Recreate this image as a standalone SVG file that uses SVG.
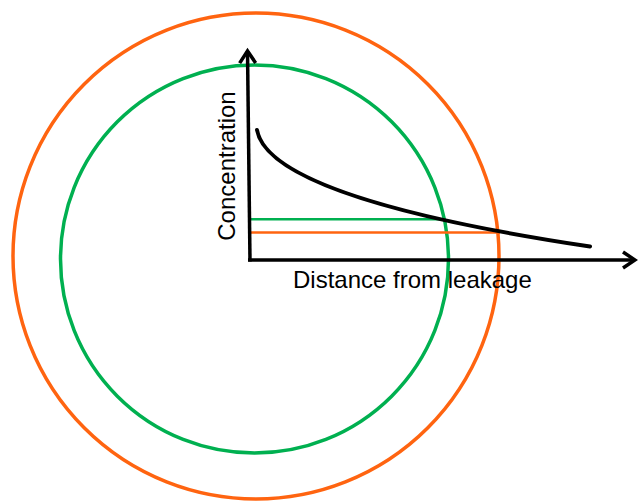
<svg xmlns="http://www.w3.org/2000/svg" width="638" height="502" viewBox="0 0 638 502">
<style>
.txt{font-family:"Liberation Sans",Arial,sans-serif;font-size:24px;fill:#000}
.ax{stroke:#000;stroke-width:3.5;fill:none}
.orange{stroke:#FF6410;fill:none}
.green{stroke:#00B050;fill:none}
</style>
<defs>
<marker id="arr" markerUnits="userSpaceOnUse" viewBox="-16 -11 20 22" refX="0" refY="0" markerWidth="20" markerHeight="22" orient="auto" overflow="visible">
<path d="M-12,-8 L0,0 L-12,8" fill="none" stroke="#000" stroke-width="3.5" stroke-linejoin="miter"/>
</marker>
</defs>
<g id="circle-outer"><circle class="orange" cx="256" cy="256" r="243" stroke-width="3.5"/></g>
<g id="circle-inner"><circle class="green" cx="254.5" cy="259" r="194" stroke-width="3.5"/></g>
<g id="thresholds">
<line class="green" x1="250" y1="219.3" x2="443" y2="219.3" stroke-width="2.6"/>
<line class="orange" x1="250" y1="232.5" x2="500" y2="232.5" stroke-width="2.6"/>
</g>
<g id="axes">
<line class="ax" x1="250" y1="261.5" x2="247.5" y2="51" marker-end="url(#arr)"/>
<line class="ax" x1="248" y1="260" x2="635" y2="260" marker-end="url(#arr)"/>
</g>
<g id="curve">
<path fill="none" stroke="#000" stroke-width="4" stroke-linecap="round" d="M257,130 C266,180 400,218 590,246.5"/>
</g>
<g id="labels">
<text class="txt" x="293" y="288">Distance from leakage</text>
<text class="txt" text-anchor="middle" transform="translate(235,166) rotate(-90)">Concentration</text>
</g>
</svg>
